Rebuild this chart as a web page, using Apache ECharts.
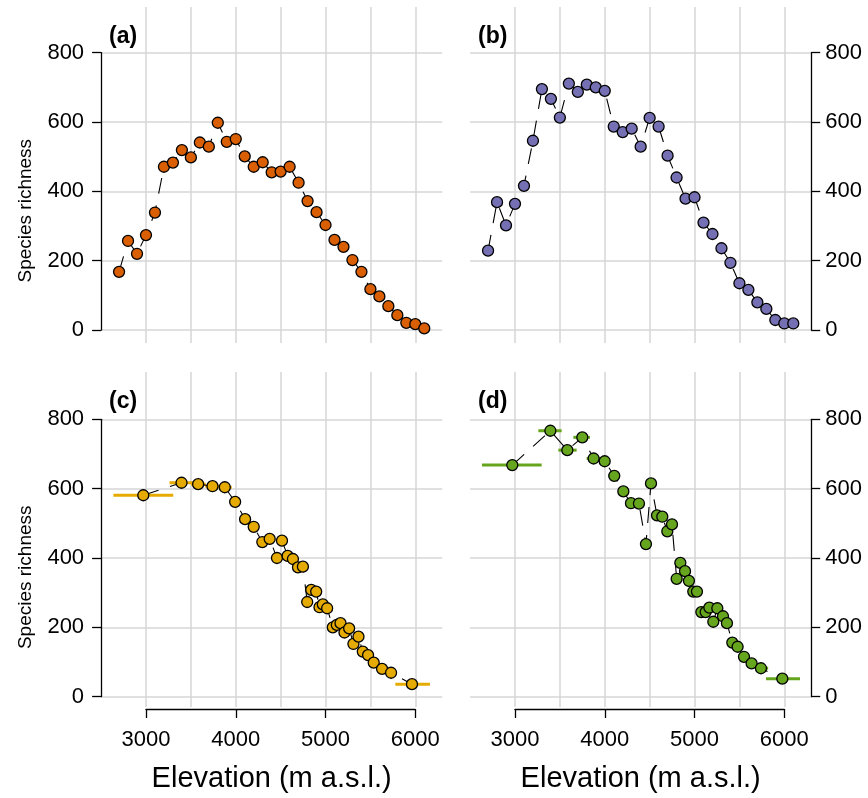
<!DOCTYPE html>
<html>
<head>
<meta charset="utf-8">
<script src="https://cdn.jsdelivr.net/npm/echarts@6/dist/echarts.min.js"></script>
<style>
  html, body { margin: 0; padding: 0; background: #fff; }
  #chart { width: 868px; height: 798px; }
</style>
</head>
<body>
<div id="chart"></div>
<script>
// elevation (m a.s.l.) and species richness, one array per panel
const elevA = [2700, 2800, 2900, 3000, 3100, 3200, 3300, 3400, 3500, 3600, 3700, 3800, 3900, 4000, 4100, 4200, 4300, 4400, 4500, 4600, 4700, 4800, 4900, 5000, 5100, 5200, 5300, 5400, 5500, 5600, 5700, 5800, 5900, 6000, 6100]
const richA = [168, 257, 220, 274, 339, 471, 483, 519, 498, 541, 529, 598, 543, 551, 501, 471, 484, 455, 457, 471, 425, 372, 340, 303, 260, 240, 202, 168, 118, 97, 69, 43, 21, 17, 5]

const elevB = [2700, 2800, 2900, 3000, 3100, 3200, 3300, 3400, 3500, 3600, 3700, 3800, 3900, 4000, 4100, 4200, 4300, 4400, 4500, 4600, 4700, 4800, 4900, 5000, 5100, 5200, 5300, 5400, 5500, 5600, 5700, 5800, 5900, 6000, 6100]
const richB = [229, 369, 302, 364, 416, 546, 695, 667, 613, 711, 687, 708, 700, 690, 587, 571, 581, 529, 612, 587, 503, 440, 379, 383, 310, 277, 236, 194, 135, 116, 80, 61, 29, 19, 19]

const elevC = [2970, 3396, 3581, 3741, 3878, 3993, 4104, 4200, 4296, 4378, 4459, 4515, 4578, 4637, 4693, 4748, 4796, 4841, 4896, 4933, 4970, 5018, 5081, 5126, 5167, 5211, 5263, 5311, 5367, 5415, 5474, 5537, 5630, 5730, 5963]
const richC = [581, 617, 613, 607, 604, 562, 512, 490, 446, 455, 400, 450, 406, 397, 373, 375, 273, 308, 303, 258, 266, 255, 200, 207, 212, 185, 197, 152, 173, 130, 120, 98, 80, 69, 36]
// elevation bands shown as horizontal bars
const bandLoC = [2637, 3262, 3500, 3660, 3810, 5680, 5778]
const bandHiC = [3304, 3530, 3665, 3830, 3955, 5790, 6163]
const bandRichC = [581, 617, 613, 607, 604, 69, 36]

const elevD = [2970, 3394, 3583, 3750, 3876, 3999, 4106, 4207, 4292, 4381, 4459, 4515, 4582, 4641, 4697, 4749, 4801, 4842, 4894, 4938, 4986, 5027, 5076, 5124, 5165, 5209, 5254, 5317, 5361, 5421, 5480, 5551, 5636, 5740, 5978]
const richD = [668, 767, 711, 748, 687, 679, 637, 592, 558, 557, 440, 615, 523, 519, 477, 497, 340, 386, 362, 334, 303, 303, 244, 244, 257, 216, 255, 232, 212, 156, 144, 115, 96, 82, 52]
const bandLoD = [2632, 3260, 3483, 3650, 3798, 4040, 5700, 5796]
const bandHiD = [3297, 3520, 3687, 3835, 3960, 4160, 5820, 6175]
const bandRichD = [668, 767, 711, 748, 687, 637, 82, 52]

const yTicks = [0, 200, 400, 600, 800]
const xTicks = [3000, 4000, 5000, 6000]

const chart = echarts.init(document.getElementById('chart'))

const FONT = 'Liberation Sans, Arial, sans-serif'
const GRID_COLOR = '#d6d6d6'
const PX = 0.08977 // px per metre

const panels = [
  { tag: '(a)', color: '#D95F02', elev: elevA, rich: richA, x0: 101.1, y800: 52.7, vTop: 7, vBot: 343, side: 'left', bottomAxis: false },
  { tag: '(b)', color: '#7570B3', elev: elevB, rich: richB, x0: 470.1, y800: 52.7, vTop: 7, vBot: 343, side: 'right', bottomAxis: false },
  { tag: '(c)', color: '#E6AB02', elev: elevC, rich: richC, lo: bandLoC, hi: bandHiC, br: bandRichC, x0: 101.1, y800: 419.3, vTop: 372, vBot: 707, side: 'left', bottomAxis: true },
  { tag: '(d)', color: '#66A61E', elev: elevD, rich: richD, lo: bandLoD, hi: bandHiD, br: bandRichD, x0: 470.1, y800: 419.3, vTop: 372, vBot: 707, side: 'right', bottomAxis: true },
]

const grid = []
const xAxis = []
const yAxis = []
const series = []
const title = []
const graphic = []

panels.forEach((p, i) => {
  const w = 3800 * PX
  // grid with the vertical grid lines (taller than the data area)
  grid.push({ left: p.x0, top: p.vTop, width: w, height: p.vBot - p.vTop })
  xAxis.push({
    gridIndex: grid.length - 1, type: 'value', min: 2500, max: 6300, interval: 500,
    axisLine: { show: false }, axisTick: { show: false }, axisLabel: { show: false },
    splitLine: { show: true, showMinLine: false, showMaxLine: false, lineStyle: { color: GRID_COLOR, width: 1.5 } },
  })
  yAxis.push({ gridIndex: grid.length - 1, type: 'value', min: 0, max: 1, show: false })

  // data grid, 0..800
  grid.push({ left: p.x0, top: p.y800, width: w, height: 800 * 0.3467 })
  const gi = grid.length - 1
  xAxis.push({ gridIndex: gi, type: 'value', min: 2500, max: 6300, show: false })
  yAxis.push({
    gridIndex: gi, type: 'value', min: yTicks[0], max: yTicks[yTicks.length - 1], interval: 200, position: p.side,
    axisLine: { show: true, lineStyle: { color: '#000', width: 1.3 } },
    axisTick: { show: true, length: 9, lineStyle: { color: '#000', width: 1.3 } },
    axisLabel: { color: '#000', fontSize: 22, fontFamily: FONT, margin: p.side === 'left' ? 17 : 14 },
    splitLine: { show: true, lineStyle: { color: GRID_COLOR, width: 1.5 } },
  })

  if (p.lo) {
    series.push({
      type: 'custom', xAxisIndex: gi, yAxisIndex: gi, z: 2,
      encode: { x: [0, 1], y: 2 },
      data: p.lo.map((v, k) => [v, p.hi[k], p.br[k]]),
      renderItem: function (params, api) {
        const a = api.coord([api.value(0), api.value(2)])
        const b = api.coord([api.value(1), api.value(2)])
        return { type: 'line', shape: { x1: a[0], y1: a[1], x2: b[0], y2: b[1] }, style: { stroke: p.color, lineWidth: 3 } }
      },
    })
  }

  series.push({
    type: 'line', xAxisIndex: gi, yAxisIndex: gi, z: 3, clip: false,
    data: p.elev.map((e, k) => [e, p.rich[k]]),
    symbol: 'circle', symbolSize: 11, showAllSymbol: true,
    itemStyle: { color: p.color, borderColor: '#000', borderWidth: 1.3 },
    lineStyle: { color: '#000', width: 1.1, type: [16, 12] },
    emphasis: { disabled: true },
  })

  // bottom axis from 3000 to 6000 only
  if (p.bottomAxis) {
    grid.push({ left: p.x0 + 500 * PX, top: 700, width: 3000 * PX, height: 9 })
    xAxis.push({
      gridIndex: grid.length - 1, type: 'value', min: xTicks[0], max: xTicks[xTicks.length - 1], interval: 1000,
      axisLine: { show: true, lineStyle: { color: '#000', width: 1.3 } },
      axisTick: { show: true, length: 9, lineStyle: { color: '#000', width: 1.3 } },
      axisLabel: { color: '#000', fontSize: 22, fontFamily: FONT, margin: 20, formatter: (v) => String(v) },
      splitLine: { show: false },
    })
    yAxis.push({ gridIndex: grid.length - 1, type: 'value', min: 0, max: 1, show: false })
    graphic.push({
      type: 'text', x: p.x0 + w / 2, y: 779,
      style: { text: 'Elevation (m a.s.l.)', fontSize: 29, fontFamily: FONT, fill: '#000', align: 'center', verticalAlign: 'middle' },
    })
  }

  if (p.side === 'left') {
    graphic.push({
      type: 'text', x: 26, y: p.y800 + 158, rotation: Math.PI / 2,
      style: { text: 'Species richness', fontSize: 19, fontFamily: FONT, fill: '#000', align: 'center', verticalAlign: 'middle' },
    })
  }

  title.push({
    text: p.tag, left: p.x0 + 3, top: p.vTop + 13,
    textStyle: { fontSize: 23, fontWeight: 'bold', color: '#000', fontFamily: FONT },
  })
})

const option = {
  backgroundColor: '#fff',
  animation: false,
  title: title,
  grid: grid,
  xAxis: xAxis,
  yAxis: yAxis,
  series: series,
  graphic: graphic,
}
chart.setOption(option)
</script>
</body>
</html>
